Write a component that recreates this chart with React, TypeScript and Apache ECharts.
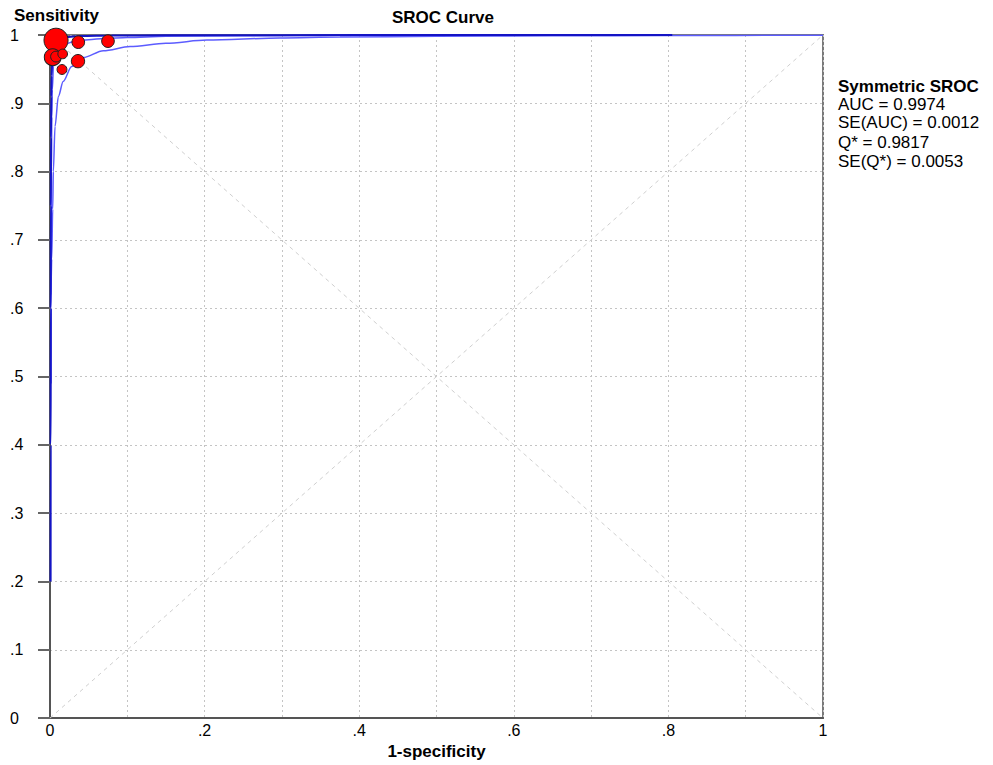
import React, { useEffect, useRef } from "react";
import * as echarts from "echarts";

// Study points (1-specificity, sensitivity) and relative study weights
const studyFpr = [0.0078, 0.0366, 0.075, 0.0035, 0.0078, 0.0164, 0.0362, 0.0155];
const studySens = [0.9923, 0.9895, 0.991, 0.9675, 0.9684, 0.9723, 0.9617, 0.9495];
const studyWeight = [10.5, 5.5, 5.5, 7.3, 4.7, 4.2, 5.8, 4.3];

// SROC curve
const srocFpr = [0.0008, 0.0009, 0.001, 0.0011, 0.0013, 0.0016, 0.002, 0.003, 0.005, 0.008, 0.012, 0.02, 0.04, 0.08, 0.15, 0.3, 0.5, 0.805];
const srocSens = [0.2, 0.4, 0.6, 0.75, 0.85, 0.91, 0.94, 0.962, 0.978, 0.987, 0.992, 0.997, 0.9985, 0.9992, 0.9995, 0.9998, 0.9999, 1];

// Upper confidence curve
const upperFpr = [0.0013, 0.0014, 0.0016, 0.0019, 0.0023, 0.003, 0.0045, 0.007, 0.012, 0.02, 0.03, 0.05, 0.07, 0.1, 0.15, 0.25, 0.4, 0.6, 0.8];
const upperSens = [0.49, 0.6, 0.7, 0.8, 0.88, 0.92, 0.955, 0.972, 0.982, 0.987, 0.99, 0.993, 0.995, 0.9965, 0.998, 0.999, 0.9995, 0.9998, 1];

// Lower confidence curve
const lowerFpr = [0.0013, 0.0022, 0.0035, 0.0043, 0.0065, 0.0108, 0.017, 0.028, 0.043, 0.069, 0.1035, 0.15, 0.203, 0.297, 0.375, 0.5, 0.65, 0.8, 1];
const lowerSens = [0.62, 0.672, 0.745, 0.8, 0.866, 0.91, 0.932, 0.954, 0.967, 0.977, 0.983, 0.988, 0.9925, 0.9956, 0.997, 0.998, 0.9988, 0.9993, 0.9997];

const yTickLabels = ["0", ".1", ".2", ".3", ".4", ".5", ".6", ".7", ".8", ".9", "1"];
const xTickLabels = ["0", "", ".2", "", ".4", "", ".6", "", ".8", "", "1"];

const titleText = "SROC Curve";
const yAxisTitle = "Sensitivity";
const xAxisTitle = "1-specificity";
const statsHeader = "Symmetric SROC";
const statsLines = ["AUC = 0.9974", "SE(AUC) = 0.0012", "Q* = 0.9817", "SE(Q*) = 0.0053"];

const FONT = "'Liberation Sans', Arial, sans-serif";

const zip = (a: number[], b: number[]) => a.map((v, i) => [v, b[i]]);

export default function App() {
  const ref = useRef<HTMLDivElement>(null);
  useEffect(() => {
    if (!ref.current) return;
    const chart = echarts.init(ref.current, undefined, { renderer: "svg" });
    const idx = (v: number) => Math.round(v * 10);
    const option: any = {
      animation: false,
      backgroundColor: "#ffffff",
      grid: {
        left: 50,
        right: 170,
        top: 35,
        bottom: 43,
        show: true,
        borderColor: "#7a7a7a",
        borderWidth: 2,
        backgroundColor: "transparent",
      },
      xAxis: {
        type: "value",
        min: 0,
        max: 1,
        interval: 0.1,
        name: xAxisTitle,
        nameLocation: "middle",
        nameGap: 21,
        nameTextStyle: { fontFamily: FONT, fontSize: 17, fontWeight: "bold", color: "#000" },
        axisLine: { show: true, lineStyle: { color: "#555", width: 2 } },
        axisTick: { show: false },
        axisLabel: {
          fontFamily: FONT,
          fontSize: 16,
          color: "#000",
          margin: 4,
          formatter: (v: number) => xTickLabels[idx(v)] ?? "",
        },
        splitLine: { show: true, lineStyle: { color: "#c4c4c4", type: [2, 3], width: 1 } },
      },
      yAxis: {
        type: "value",
        min: 0,
        max: 1,
        interval: 0.1,
        axisLine: { show: true, lineStyle: { color: "#555", width: 2 } },
        axisTick: { show: true, length: 12, lineStyle: { color: "#666", width: 2 } },
        axisLabel: {
          fontFamily: FONT,
          fontSize: 16,
          color: "#000",
          align: "left",
          margin: 40,
          formatter: (v: number) => yTickLabels[idx(v)] ?? "",
        },
        splitLine: { show: true, lineStyle: { color: "#c4c4c4", type: [2, 3], width: 1 } },
      },
      series: [
        {
          type: "line",
          data: [[0, 0], [1, 1]],
          showSymbol: false,
          silent: true,
          lineStyle: { color: "#cfcfcf", width: 1, type: [4, 4] },
          z: 1,
        },
        {
          type: "line",
          data: [[0, 1], [1, 0]],
          showSymbol: false,
          silent: true,
          lineStyle: { color: "#cfcfcf", width: 1, type: [4, 4] },
          z: 1,
        },
        {
          type: "line",
          data: zip(lowerFpr, lowerSens),
          showSymbol: false,
          smooth: 0.3,
          smoothMonotone: "x",
          lineStyle: { color: "#5c5cff", width: 1.5 },
          z: 2,
        },
        {
          type: "line",
          data: zip(upperFpr, upperSens),
          showSymbol: false,
          smooth: 0.3,
          smoothMonotone: "x",
          lineStyle: { color: "#5c5cff", width: 1.5 },
          z: 2,
        },
        {
          type: "line",
          data: zip(srocFpr, srocSens),
          showSymbol: false,
          smooth: 0.3,
          smoothMonotone: "x",
          lineStyle: { color: "#1414c4", width: 2 },
          z: 3,
        },
        {
          type: "scatter",
          data: studyFpr.map((x, i) => [x, studySens[i], studyWeight[i]]),
          symbolSize: (d: number[]) => d[2] * 2.3,
          itemStyle: { color: "#ff0000", borderColor: "#202020", borderWidth: 1, opacity: 1 },
          z: 5,
        },
      ],
      graphic: [
        {
          type: "text",
          left: 14,
          top: 7,
          style: { text: yAxisTitle, fontFamily: FONT, fontSize: 17, fontWeight: "bold", fill: "#000" },
        },
        {
          type: "text",
          x: 443,
          y: 17,
          style: {
            text: titleText,
            fontFamily: FONT,
            fontSize: 17,
            fontWeight: "bold",
            fill: "#000",
            align: "center",
            verticalAlign: "middle",
          },
        },
        {
          type: "text",
          x: 838,
          y: 86,
          style: {
            text: statsHeader,
            fontFamily: FONT,
            fontSize: 17,
            fontWeight: "bold",
            fill: "#000",
            verticalAlign: "middle",
          },
        },
        ...statsLines.map((t, i) => ({
          type: "text",
          x: 838,
          y: [104, 122, 142, 161][i],
          style: {
            text: t,
            fontFamily: FONT,
            fontSize: 17,
            fill: "#000",
            verticalAlign: "middle",
          },
        })),
      ],
    };
    chart.setOption(option);
    return () => chart.dispose();
  }, []);
  return (
    <div
      ref={ref}
      style={{ position: "fixed", left: 0, top: 0, width: 993, height: 765, background: "#fff" }}
    />
  );
}
